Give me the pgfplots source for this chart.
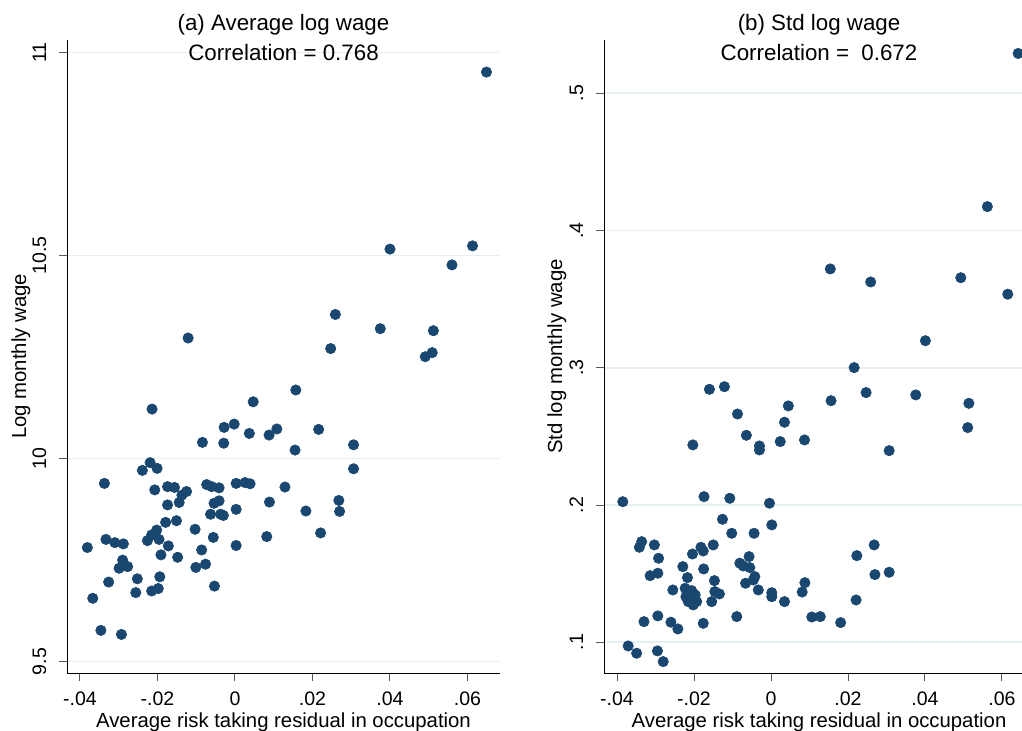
\documentclass[border=0pt]{standalone}
\usepackage{fontspec}
\setmainfont{Liberation Sans}
\usepackage{pgfplots}
\usepackage{pgfplotstable}
\pgfplotsset{compat=1.18}
\definecolor{statanavy}{RGB}{26,71,111}
\definecolor{gridc}{RGB}{230,239,241}
\newcommand\tfont{\fontsize{11.2}{13}\selectfont}
\newcommand\lfont{\fontsize{10.2}{12}\selectfont}
\newcommand\kfont{\fontsize{9.8}{11}\selectfont}

\pgfplotstableread{
x y
-0.0084 10.040
-0.0029 10.038
-0.0219 9.990
-0.0239 9.971
-0.0201 9.976
-0.0337 9.939
-0.0207 9.923
-0.0174 9.931
-0.0156 9.929
-0.0125 9.919
-0.0137 9.910
-0.0144 9.892
-0.0174 9.886
-0.0073 9.936
-0.0060 9.931
-0.0041 9.928
0.0003 9.939
0.0026 9.941
0.0039 9.938
0.0129 9.930
-0.0054 9.890
-0.0041 9.896
-0.0063 9.863
-0.0037 9.863
-0.0030 9.860
0.0003 9.875
0.0089 9.893
0.0183 9.871
0.0268 9.897
0.0270 9.870
-0.0179 9.843
-0.0151 9.847
-0.0103 9.826
-0.0202 9.824
-0.0215 9.812
-0.0226 9.798
-0.0196 9.801
-0.0333 9.801
-0.0310 9.793
-0.0288 9.790
-0.0381 9.781
-0.0172 9.785
-0.0056 9.806
0.0003 9.786
0.0082 9.808
0.0221 9.817
-0.0191 9.763
-0.0148 9.757
-0.0086 9.775
-0.0290 9.750
-0.0299 9.730
-0.0277 9.734
-0.0252 9.704
-0.0194 9.709
-0.0326 9.696
-0.0076 9.740
-0.0101 9.732
-0.0053 9.686
-0.0256 9.670
-0.0215 9.674
-0.0198 9.680
-0.0367 9.656
-0.0346 9.577
-0.0293 9.567
-0.0214 10.122
0.0047 10.140
0.0157 10.169
-0.0028 10.077
-0.0002 10.085
0.0037 10.062
0.0088 10.058
0.0108 10.073
0.0216 10.072
0.0155 10.021
0.0306 10.034
0.0306 9.975
0.0649 10.952
0.0400 10.516
0.0613 10.524
0.0560 10.477
0.0259 10.355
0.0375 10.320
0.0512 10.315
0.0247 10.271
0.0509 10.261
0.0491 10.251
-0.0121 10.297
}\avgdata

\pgfplotstableread{
x y
-0.0385 0.2024
-0.0174 0.2061
-0.0107 0.2049
-0.0004 0.2013
-0.0126 0.1896
0.0002 0.1855
-0.0102 0.1794
-0.0044 0.1794
-0.0336 0.1733
-0.0342 0.1692
-0.0303 0.1709
-0.0292 0.1612
-0.0204 0.1643
-0.0182 0.1692
-0.0176 0.1665
-0.0150 0.1709
-0.0057 0.1624
-0.0081 0.1576
-0.0072 0.1556
-0.0055 0.1544
-0.0042 0.1478
-0.0046 0.1454
-0.0066 0.1430
-0.0033 0.1381
0.0002 0.1361
0.0002 0.1332
-0.0229 0.1551
-0.0175 0.1534
-0.0294 0.1503
-0.0314 0.1485
-0.0217 0.1471
-0.0147 0.1449
-0.0255 0.1381
-0.0223 0.1393
-0.0206 0.1376
-0.0197 0.1345
-0.0193 0.1296
-0.0215 0.1296
-0.0221 0.1332
-0.0202 0.1272
-0.0146 0.1369
-0.0134 0.1352
-0.0154 0.1296
-0.0089 0.1187
-0.0294 0.1192
-0.0330 0.1150
-0.0260 0.1146
-0.0242 0.1097
-0.0176 0.1138
-0.0371 0.0973
-0.0349 0.0920
-0.0295 0.0937
-0.0280 0.0859
-0.0160 0.2843
-0.0121 0.2862
-0.0087 0.2663
-0.0064 0.2508
-0.0030 0.2430
-0.0030 0.2401
-0.0203 0.2438
0.0045 0.2722
0.0035 0.2603
0.0024 0.2462
0.0087 0.2474
0.0156 0.2760
0.0247 0.2819
0.0376 0.2802
0.0514 0.2741
0.0511 0.2564
0.0307 0.2396
0.0562 0.4174
0.0154 0.3720
0.0259 0.3625
0.0493 0.3656
0.0615 0.3536
0.0401 0.3197
0.0216 0.3001
0.0268 0.1709
0.0223 0.1631
0.0270 0.1493
0.0307 0.1510
0.0221 0.1308
0.0088 0.1434
0.0081 0.1366
0.0035 0.1296
0.0106 0.1184
0.0128 0.1187
0.0181 0.1143
0.0642 0.5290
}\stddata

\pgfplotsset{
  stataaxis/.style={
    scale only axis,
    scaled x ticks=false, scaled y ticks=false,
    axis x line*=bottom, axis y line*=left,
    axis line style={black, line width=0.5bp, -},
    tick align=outside,
    major tick length=4bp,
    tick style={black!65, line width=0.5bp},
    ymajorgrids, grid style={gridc, line width=0.8bp},
    xtick={-0.04,-0.02,0,0.02,0.04,0.06},
    xticklabels={-.04,-.02,0,.02,.04,.06},
    ticklabel style={font=\kfont, inner sep=0pt},
    xticklabel style={anchor=north},
    yticklabel style={rotate=90, anchor=south},
    xticklabel shift=5bp,
    yticklabel shift=6.2bp,
    minor tick num=0,
    clip mode=individual,
    clip marker paths=true,
  },
  dots/.style={only marks, mark=*, mark size=2.6bp, color=statanavy,
    mark options={draw=statanavy, fill=statanavy, line width=0.3bp}},
}

\begin{document}
\begin{tikzpicture}
\begin{axis}[stataaxis,
  at={(0,0)}, anchor=south west,
  width=216.5bp, height=316.5bp,
  xmin=-0.04335, xmax=0.06839,
  ymin=9.472, ymax=11.031,
  ytick={9.5,10,10.5,11},
  yticklabels={9.5,10,10.5,11},
  extra description/.code={
    \node[font=\tfont, anchor=base] at ([yshift=4.65bp]axis description cs:0.5,1) {(a) Average log wage};
    \node[font=\tfont, anchor=base] at ([yshift=-10.35bp]axis description cs:0.5,1) {Correlation = 0.768};
    \node[font=\lfont, anchor=base] at ([yshift=-27.15bp]axis description cs:0.5,0) {Average risk taking residual in occupation};
    \node[font=\lfont, anchor=base, rotate=90] at ([xshift=-20.5bp]axis description cs:0,0.5) {Log monthly wage};
  },
]
\addplot[dots] table[x=x, y=y] {\avgdata};
\end{axis}

\begin{axis}[stataaxis,
  at={(268.5bp,0)}, anchor=south west,
  width=209bp, height=316.5bp,
  xmin=-0.04338, xmax=0.0652,
  ymin=0.0776, ymax=0.5388,
  ytick={0.1,0.2,0.3,0.4,0.5},
  yticklabels={.1,.2,.3,.4,.5},
  extra description/.code={
    \node[font=\tfont, anchor=base] at ([yshift=4.65bp]axis description cs:0.5144,1) {(b) Std log wage};
    \node[font=\tfont, anchor=base] at ([yshift=-10.35bp]axis description cs:0.5144,1) {Correlation = \ 0.672};
    \node[font=\lfont, anchor=base] at ([yshift=-27.15bp]axis description cs:0.5144,0) {Average risk taking residual in occupation};
    \node[font=\lfont, anchor=base, rotate=90] at ([xshift=-21bp]axis description cs:0,0.5) {Std log monthly wage};
  },
]
\addplot[dots] table[x=x, y=y] {\stddata};
\end{axis}
\pgfresetboundingbox
\path[use as bounding box] (-33.5bp,-29bp) rectangle (477.5bp,336.5bp);
\end{tikzpicture}
\end{document}
